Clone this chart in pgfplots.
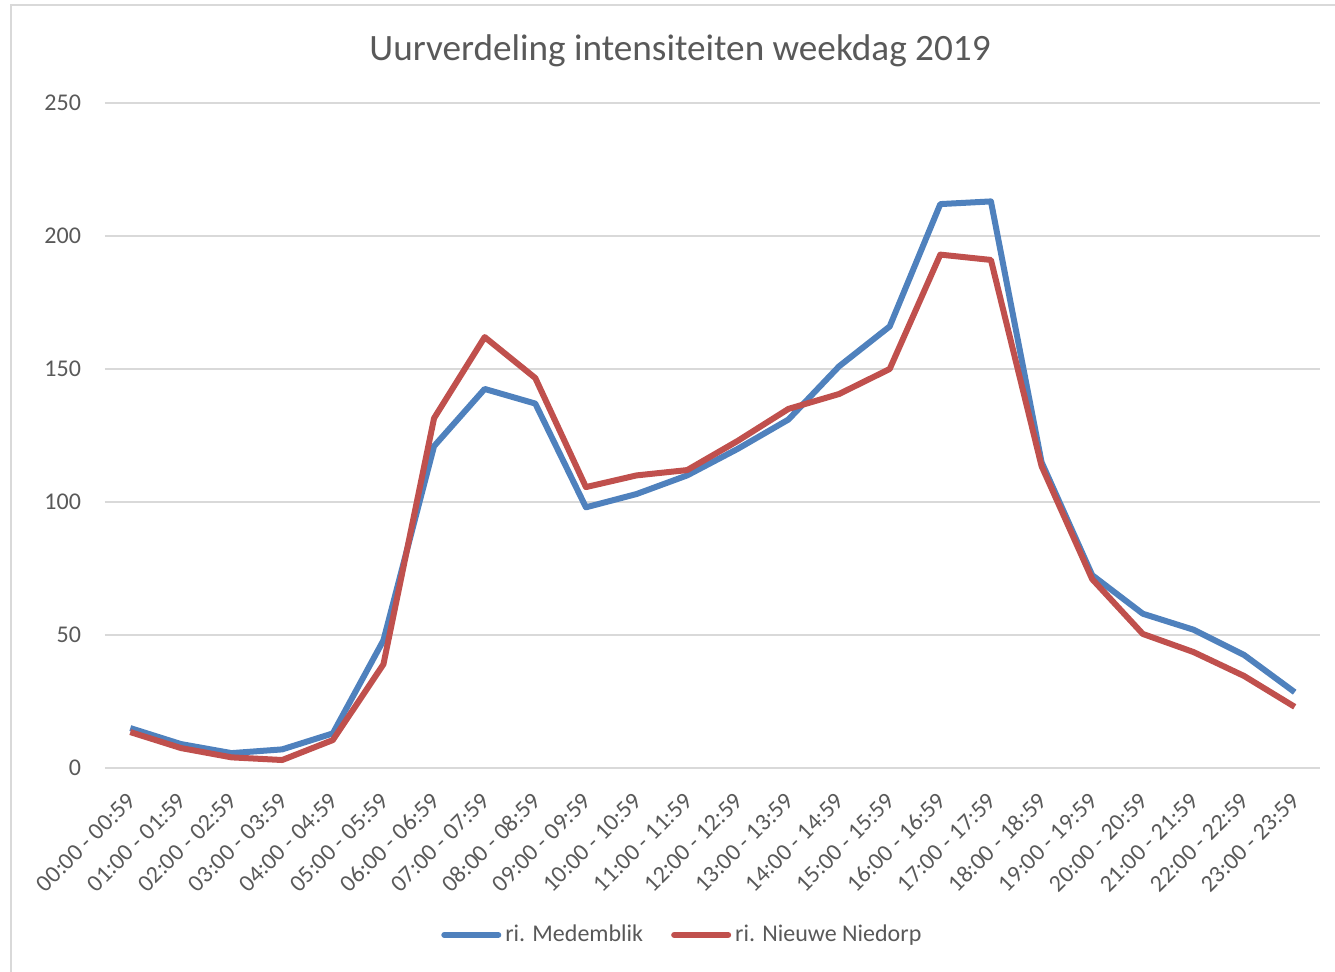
\documentclass[border=0pt]{standalone}
\usepackage{pgfplots}
\pgfplotsset{compat=1.18}
\usepackage{fontspec}
\setmainfont{Carlito}
\definecolor{blueS}{HTML}{4F81BD}
\definecolor{redS}{HTML}{C0504D}
\definecolor{txt}{HTML}{595959}
\definecolor{gridc}{HTML}{D9D9D9}
\begin{document}
\begin{tikzpicture}[x=1pt,y=1pt]
\path[use as bounding box] (0,0) rectangle (667.5,485.5);
\draw[gridc, line width=1pt] (5.5,-5) -- (5.5,483) -- (680,483);
\node[txt, font=\fontsize{18.6}{20}\selectfont] at (340,460) {Uurverdeling intensiteiten weekdag 2019};
\begin{axis}[
  at={(52.5pt,101.5pt)}, anchor=south west,
  scale only axis, width=607.5pt, height=332.5pt,
  xmin=-0.5, xmax=23.5, ymin=0, ymax=250,
  ytick={0,50,...,250},
  xtick={0,...,23},
  xticklabels={00:00 - 00:59,01:00 - 01:59,02:00 - 02:59,03:00 - 03:59,04:00 - 04:59,05:00 - 05:59,06:00 - 06:59,07:00 - 07:59,08:00 - 08:59,09:00 - 09:59,10:00 - 10:59,11:00 - 11:59,12:00 - 12:59,13:00 - 13:59,14:00 - 14:59,15:00 - 15:59,16:00 - 16:59,17:00 - 17:59,18:00 - 18:59,19:00 - 19:59,20:00 - 20:59,21:00 - 21:59,22:00 - 22:59,23:00 - 23:59},
  x tick label style={xshift=3pt, yshift=-12pt, rotate=45, anchor=east, font=\fontsize{12}{14}\selectfont, text=txt},
  y tick label style={font=\fontsize{12}{14}\selectfont, text=txt, xshift=-8.5pt},
  /pgf/number format/assume math mode=true,
  major tick length=0pt,
  xmajorgrids=false, ymajorgrids=true, grid style={draw=gridc, line width=0.9pt},
  axis line style={draw=none},
  legend columns=2,
  legend style={at={(0.476,-0.251)}, anchor=center, draw=none, fill=none,
    font=\fontsize{12}{14}\selectfont, text=txt,
    /tikz/every even column/.append style={column sep=12pt}},
  legend image code/.code={\draw[#1, line cap=round] (0,0) -- (27pt,0);},
  every axis plot/.append style={line width=3pt, line join=round},
]
\addplot[blueS, mark=none] coordinates {
(0,15) (1,9) (2,5.6) (3,7) (4,13) (5,48) (6,121) (7,142.5) (8,137) (9,98)
(10,103) (11,110) (12,120) (13,131) (14,151) (15,166) (16,212) (17,213)
(18,115) (19,72.5) (20,58) (21,52) (22,42.5) (23,28.5)};
\addlegendentry{ri. Medemblik}
\addplot[redS, mark=none] coordinates {
(0,13.5) (1,7.5) (2,4) (3,3) (4,10.5) (5,39) (6,131.5) (7,162) (8,146.6) (9,105.6)
(10,110) (11,112) (12,123) (13,135) (14,140.6) (15,150) (16,193) (17,191)
(18,113.5) (19,71) (20,50.4) (21,43.6) (22,34.6) (23,23)};
\addlegendentry{ri. Nieuwe Niedorp}
\end{axis}
\end{tikzpicture}
\end{document}
